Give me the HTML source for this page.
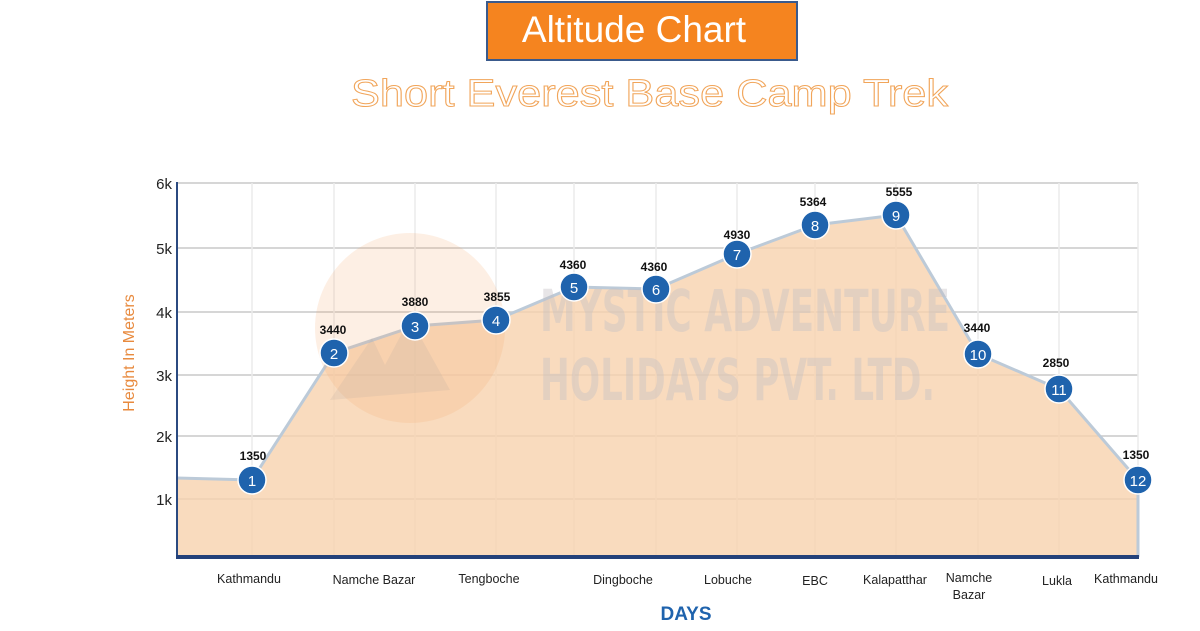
<!DOCTYPE html>
<html><head><meta charset="utf-8"><style>
html,body{margin:0;padding:0;background:#fff;}
svg{display:block;font-family:"Liberation Sans",sans-serif;}
</style></head><body>
<svg width="1200" height="631" viewBox="0 0 1200 631" xmlns="http://www.w3.org/2000/svg">
<rect x="487" y="2" width="310" height="58" fill="#f5841f" stroke="#3a5a8c" stroke-width="2"/>
<text x="634" y="42" text-anchor="middle" font-size="37" fill="#fff">Altitude Chart</text>
<text x="351" y="106" font-size="38" fill="none" stroke="#f1a55a" stroke-width="1" textLength="597" lengthAdjust="spacingAndGlyphs">Short Everest Base Camp Trek</text>

<!-- grid -->
<g stroke="#c8c8c8" stroke-width="1.5">
<line x1="177" y1="183" x2="1138" y2="183"/>
<line x1="177" y1="248" x2="1138" y2="248"/>
<line x1="177" y1="312" x2="1138" y2="312"/>
<line x1="177" y1="375" x2="1138" y2="375"/>
<line x1="177" y1="436" x2="1138" y2="436"/>
<line x1="177" y1="499" x2="1138" y2="499"/>
</g>
<g stroke="#ececec" stroke-width="1.5">
<line x1="252" y1="183" x2="252" y2="557"/><line x1="334" y1="183" x2="334" y2="557"/>
<line x1="415" y1="183" x2="415" y2="557"/><line x1="496" y1="183" x2="496" y2="557"/>
<line x1="574" y1="183" x2="574" y2="557"/><line x1="656" y1="183" x2="656" y2="557"/>
<line x1="737" y1="183" x2="737" y2="557"/><line x1="815" y1="183" x2="815" y2="557"/>
<line x1="896" y1="183" x2="896" y2="557"/><line x1="978" y1="183" x2="978" y2="557"/>
<line x1="1059" y1="183" x2="1059" y2="557"/><line x1="1138" y1="183" x2="1138" y2="557"/>
</g>

<!-- area -->
<path d="M177,478 L252,480 L334,353 L415,326 L496,320 L574,287 L656,289 L737,254 L815,225 L896,215 L978,354 L1059,389 L1138,480 L1138,557 L177,557 Z" fill="#f8d2ae" fill-opacity="0.8"/>
<polyline points="177,478 252,480 334,353 415,326 496,320 574,287 656,289 737,254 815,225 896,215 978,354 1059,389 1138,480 1138,557" fill="none" stroke="#bccad8" stroke-width="3"/>
<!-- watermark -->
<circle cx="410" cy="328" r="95" fill="#f3a868" opacity="0.18"/>
<path d="M330,400 L372,338 L385,365 L410,318 L450,390 Z" fill="#b8a8a0" opacity="0.2"/>
<g font-family="'DejaVu Sans Condensed','Liberation Sans Narrow',sans-serif" font-weight="bold" fill="#c4c0c4" opacity="0.4" font-size="58">
<text x="540" y="331" textLength="410" lengthAdjust="spacingAndGlyphs">MYSTIC ADVENTURE</text>
<text x="540" y="400" textLength="395" lengthAdjust="spacingAndGlyphs">HOLIDAYS PVT. LTD.</text>
</g>

<!-- axes -->
<line x1="177" y1="182" x2="177" y2="557" stroke="#2b4a80" stroke-width="2"/>
<line x1="176" y1="557" x2="1139" y2="557" stroke="#23417a" stroke-width="4"/>

<g font-size="15" fill="#222" text-anchor="end">
<text x="172" y="189">6k</text><text x="172" y="254">5k</text><text x="172" y="318">4k</text>
<text x="172" y="381">3k</text><text x="172" y="442">2k</text><text x="172" y="505">1k</text>
</g>
<text transform="translate(134,353) rotate(-90)" text-anchor="middle" font-size="16" fill="#e88a3e">Height In Meters</text>

<!-- points -->
<g fill="#1f63ad" stroke="#fff" stroke-width="1.5">
<circle cx="252" cy="480" r="14"/><circle cx="334" cy="353" r="14"/><circle cx="415" cy="326" r="14"/>
<circle cx="496" cy="320" r="14"/><circle cx="574" cy="287" r="14"/><circle cx="656" cy="289" r="14"/>
<circle cx="737" cy="254" r="14"/><circle cx="815" cy="225" r="14"/><circle cx="896" cy="215" r="14"/>
<circle cx="978" cy="354" r="14"/><circle cx="1059" cy="389" r="14"/><circle cx="1138" cy="480" r="14"/>
</g>
<g font-size="15" fill="#fff" text-anchor="middle">
<text x="252" y="486">1</text><text x="334" y="359">2</text><text x="415" y="332">3</text>
<text x="496" y="326">4</text><text x="574" y="293">5</text><text x="656" y="295">6</text>
<text x="737" y="260">7</text><text x="815" y="231">8</text><text x="896" y="221">9</text>
<text x="978" y="360">10</text><text x="1059" y="395">11</text><text x="1138" y="486">12</text>
</g>
<g font-size="12" font-weight="bold" fill="#111" text-anchor="middle">
<text x="253" y="460">1350</text><text x="333" y="334">3440</text><text x="415" y="306">3880</text>
<text x="497" y="301">3855</text><text x="573" y="269">4360</text><text x="654" y="271">4360</text>
<text x="737" y="239">4930</text><text x="813" y="206">5364</text><text x="899" y="196">5555</text>
<text x="977" y="332">3440</text><text x="1056" y="367">2850</text><text x="1136" y="459">1350</text>
</g>
<g font-size="12.5" fill="#222" text-anchor="middle">
<text x="249" y="583">Kathmandu</text><text x="374" y="584">Namche Bazar</text>
<text x="489" y="583">Tengboche</text><text x="623" y="584">Dingboche</text>
<text x="728" y="584">Lobuche</text><text x="815" y="585">EBC</text>
<text x="895" y="584">Kalapatthar</text><text x="969" y="582">Namche</text>
<text x="969" y="599">Bazar</text><text x="1057" y="585">Lukla</text>
<text x="1126" y="583">Kathmandu</text>
</g>
<text x="686" y="620" text-anchor="middle" font-size="19" font-weight="bold" fill="#1f63ad">DAYS</text>
</svg>
</body></html>
